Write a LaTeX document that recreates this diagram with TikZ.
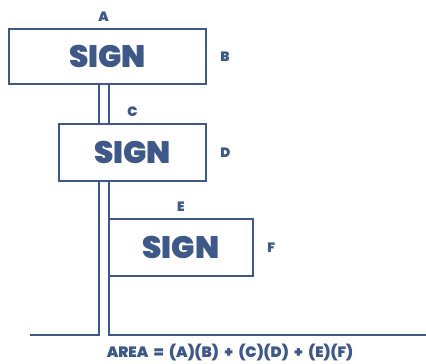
\documentclass[tikz,border=0pt]{standalone}
\usepackage{fontspec}
\setmainfont{Poppins}[BoldFont={Poppins Black}]
\usepackage{tikz}
\usetikzlibrary{positioning}
\definecolor{signblue}{RGB}{62,88,135}

\begin{document}
\begin{tikzpicture}[x=1pt,y=-1pt,
  signbox/.style={draw=signblue, line width=2.2pt, fill=white, text=signblue, font=\bfseries\fontsize{31}{31}\selectfont},
  dim/.style={text=signblue, font=\bfseries\fontsize{13.5}{13.5}\selectfont, inner sep=1pt}]
\useasboundingbox (0,0) rectangle (426,364);
% pole and ground
\coordinate (poleL) at (99,84);
\coordinate (poleR) at (109,84);
\coordinate (groundL) at (30,335);
\coordinate (groundR) at (426,335);
\draw [signblue, line width=2.2pt] (groundL) -- (99,335) -- (poleL);
\draw [signblue, line width=2.2pt] (poleR) -- (109,335) -- (groundR);
% the three signs
\node [signbox, minimum width=197pt, minimum height=55pt] (sign1) at (107.5,56.5) {SIGN};
\node [signbox, minimum width=147pt, minimum height=57pt] (sign2) at (132.5,152.5) {SIGN};
\node [signbox, minimum width=144pt, minimum height=57pt] (sign3) at (181,247.5) {SIGN};
\node [dim, above=5pt of sign1, xshift=-4pt] (A) {A};
\node [dim, right=12pt of sign1] (B) {B};
\node [dim, above=5pt of sign2] (C) {C};
\node [dim, right=12pt of sign2] (D) {D};
\node [dim, above=5pt of sign3] (E) {E};
\node [dim, right=12pt of sign3] (F) {F};
\node [text=signblue, font=\bfseries\fontsize{15}{15}\selectfont, inner sep=0pt] (area) at (230,353)
  {\spaceskip=0.38em AREA = (A)(B) + (C)(D) + (E)(F)};
\end{tikzpicture}
\end{document}
